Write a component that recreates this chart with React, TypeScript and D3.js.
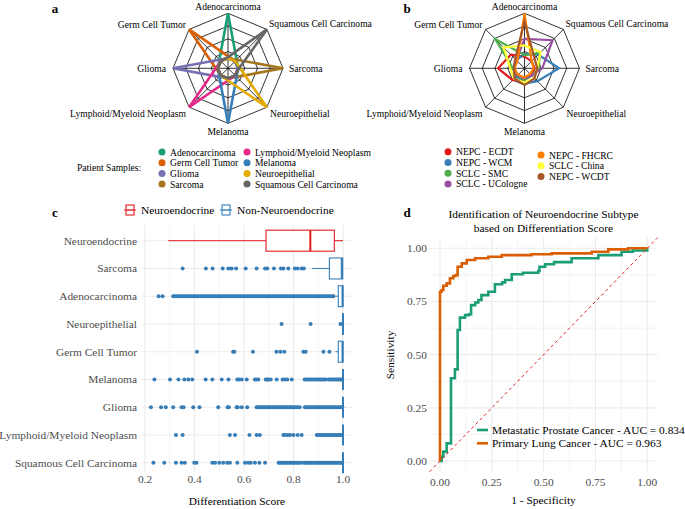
import React from "react";
import * as d3 from "d3";

const W = 685;
const H = 509;
const serif = '"Liberation Serif", "Times New Roman", Times, serif';
const tickGray = "#4D4D4D";
const gridGray = "#EBEBEB";

// ---- panels a / b : radar charts ----
const radarAxes = [
  "Adenocarcinoma",
  "Squamous Cell Carcinoma",
  "Sarcoma",
  "Neuroepithelial",
  "Melanoma",
  "Lymphoid/Myeloid Neoplasm",
  "Glioma",
  "Germ Cell Tumor",
];

const sampleNames = [
  "Adenocarcinoma",
  "Germ Cell Tumor",
  "Glioma",
  "Sarcoma",
  "Lymphoid/Myeloid Neoplasm",
  "Melanoma",
  "Neuroepithelial",
  "Squamous Cell Carcinoma",
];
const sampleColors = ["#1B9E77", "#D95F02", "#7570B3", "#A6761D", "#E7298A", "#377EB8", "#E6AB02", "#666666"];
// values follow radarAxes order
const sampleValues = [
  [1.0, 0.16, 0.12, 0.12, 0.12, 0.12, 0.12, 0.16],
  [0.16, 0.12, 0.12, 0.12, 0.12, 0.12, 0.16, 1.0],
  [0.12, 0.12, 0.12, 0.12, 0.12, 0.16, 1.0, 0.16],
  [0.12, 0.16, 1.0, 0.16, 0.12, 0.12, 0.12, 0.12],
  [0.12, 0.12, 0.12, 0.12, 0.16, 1.0, 0.16, 0.12],
  [0.12, 0.12, 0.12, 0.16, 1.0, 0.16, 0.12, 0.12],
  [0.12, 0.12, 0.16, 1.0, 0.16, 0.12, 0.12, 0.12],
  [0.14, 1.0, 0.14, 0.12, 0.12, 0.12, 0.12, 0.12],
];

const cohortNames = [
  "NEPC - ECDT",
  "NEPC - WCM",
  "SCLC - SMC",
  "SCLC - UCologne",
  "NEPC - FHCRC",
  "SCLC - China",
  "NEPC - WCDT",
];
const cohortColors = ["#E41A1C", "#377EB8", "#4DAF4A", "#984EA3", "#FF7F00", "#FFFF33", "#A65628"];
const cohortValues = [
  [0.15, 0.12, 0.12, 0.12, 0.15, 0.25, 0.44, 0.3],
  [0.2, 0.3, 0.6, 0.28, 0.22, 0.15, 0.15, 0.15],
  [0.18, 0.35, 0.2, 0.12, 0.15, 0.12, 0.15, 0.73],
  [0.5, 0.7, 0.27, 0.12, 0.12, 0.12, 0.12, 0.15],
  [1.0, 0.12, 0.1, 0.08, 0.1, 0.1, 0.12, 0.12],
  [0.37, 0.37, 0.17, 0.2, 0.2, 0.21, 0.2, 0.5],
  [0.84, 0.2, 0.17, 0.2, 0.25, 0.2, 0.13, 0.18],
];

// ---- panel c : differentiation score boxplots ----
const boxCategories = [
  "Neuroendocrine",
  "Sarcoma",
  "Adenocarcinoma",
  "Neuroepithelial",
  "Germ Cell Tumor",
  "Melanoma",
  "Glioma",
  "Lymphoid/Myeloid Neoplasm",
  "Squamous Cell Carcinoma",
];
const boxGroup = ["Neuroendocrine", "Non-Neuroendocrine", "Non-Neuroendocrine", "Non-Neuroendocrine", "Non-Neuroendocrine", "Non-Neuroendocrine", "Non-Neuroendocrine", "Non-Neuroendocrine", "Non-Neuroendocrine"];
// [lower whisker, q1, median, q3, upper whisker]
const boxStats = [
  [0.294, 0.689, 0.868, 0.965, 1.0],
  [0.874, 0.945, 0.995, 0.999, 1.0],
  [0.962, 0.981, 0.998, 1.0, 1.0],
  [0.996, 0.998, 1.0, 1.0, 1.0],
  [0.97, 0.981, 0.998, 1.0, 1.0],
  [1.0, 1.0, 1.0, 1.0, 1.0],
  [1.0, 1.0, 1.0, 1.0, 1.0],
  [1.0, 1.0, 1.0, 1.0, 1.0],
  [1.0, 1.0, 1.0, 1.0, 1.0],
];
const outliers = [
  [],
  [0.352, 0.446, 0.473, 0.514, 0.537, 0.55, 0.568, 0.607, 0.651, 0.685, 0.694, 0.721, 0.749, 0.759, 0.779, 0.806, 0.817, 0.833, 0.842],
  [0.255, 0.271, 0.314, 0.32, 0.327, 0.334, 0.341, 0.348, 0.355, 0.362, 0.369, 0.376, 0.383, 0.39, 0.397, 0.404, 0.411, 0.418, 0.425, 0.432, 0.439, 0.446, 0.453, 0.46, 0.467, 0.474, 0.481, 0.488, 0.495, 0.502, 0.509, 0.516, 0.523, 0.53, 0.537, 0.544, 0.551, 0.558, 0.565, 0.572, 0.579, 0.586, 0.593, 0.6, 0.607, 0.614, 0.621, 0.628, 0.635, 0.642, 0.649, 0.656, 0.663, 0.67, 0.677, 0.684, 0.691, 0.698, 0.705, 0.712, 0.719, 0.726, 0.733, 0.74, 0.747, 0.754, 0.761, 0.768, 0.775, 0.782, 0.789, 0.796, 0.803, 0.81, 0.817, 0.824, 0.831, 0.838, 0.845, 0.852, 0.859, 0.866, 0.873, 0.88, 0.887, 0.894, 0.901, 0.908, 0.915, 0.922, 0.929, 0.936, 0.943, 0.95, 0.957, 0.961],
  [0.752, 0.869, 0.99],
  [0.41, 0.556, 0.561, 0.636, 0.731, 0.747, 0.763, 0.84, 0.849, 0.921, 0.945],
  [0.238, 0.301, 0.335, 0.359, 0.375, 0.391, 0.445, 0.472, 0.51, 0.537, 0.573, 0.58, 0.591, 0.611, 0.644, 0.65, 0.658, 0.688, 0.694, 0.698, 0.708, 0.732, 0.756, 0.765, 0.775, 0.793, 0.845, 0.852, 0.858, 0.865, 0.871, 0.878, 0.884, 0.891, 0.897, 0.904, 0.91, 0.917, 0.923, 0.93, 0.942, 0.948, 0.955, 0.961, 0.967, 0.973, 0.979, 0.985, 0.99, 0.995],
  [0.224, 0.265, 0.284, 0.314, 0.348, 0.356, 0.395, 0.42, 0.496, 0.534, 0.539, 0.57, 0.575, 0.591, 0.613, 0.651, 0.657, 0.664, 0.67, 0.676, 0.683, 0.689, 0.696, 0.702, 0.708, 0.715, 0.721, 0.728, 0.734, 0.741, 0.747, 0.754, 0.76, 0.767, 0.773, 0.779, 0.786, 0.792, 0.799, 0.805, 0.812, 0.818, 0.825, 0.846, 0.852, 0.859, 0.865, 0.871, 0.878, 0.884, 0.891, 0.897, 0.904, 0.91, 0.917, 0.923, 0.929, 0.936, 0.942, 0.948, 0.955, 0.961, 0.967, 0.974, 0.98, 0.986, 0.992, 0.997],
  [0.325, 0.352, 0.543, 0.564, 0.622, 0.651, 0.664, 0.759, 0.766, 0.776, 0.786, 0.8, 0.817, 0.833, 0.894, 0.9, 0.906, 0.913, 0.919, 0.925, 0.932, 0.938, 0.944, 0.951, 0.957, 0.963, 0.97, 0.976, 0.982, 0.988, 0.994],
  [0.234, 0.278, 0.325, 0.348, 0.361, 0.399, 0.408, 0.472, 0.483, 0.5, 0.516, 0.532, 0.543, 0.573, 0.604, 0.617, 0.627, 0.644, 0.662, 0.685, 0.74, 0.746, 0.752, 0.759, 0.765, 0.771, 0.778, 0.784, 0.79, 0.797, 0.803, 0.81, 0.816, 0.822, 0.829, 0.841, 0.847, 0.853, 0.86, 0.866, 0.872, 0.879, 0.885, 0.891, 0.898, 0.904, 0.91, 0.917, 0.923, 0.929, 0.936, 0.942, 0.948, 0.955, 0.961, 0.967, 0.974, 0.98, 0.986, 0.992, 0.997],
];
const groupColors: Record<string, string> = { Neuroendocrine: "#E41A1C", "Non-Neuroendocrine": "#377EB8" };
const scoreTicks = [0.2, 0.4, 0.6, 0.8, 1.0];
const scoreMinor = [0.3, 0.5, 0.7, 0.9];

// ---- panel d : ROC curves ----
const rocNames = ["Metastatic Prostate Cancer - AUC = 0.834", "Primary Lung Cancer - AUC = 0.963"];
const rocColors = ["#1B9E77", "#D95F02"];
const rocProstate: [number, number][] = [
  [0, 0], [0.008, 0.02], [0.016, 0.044], [0.032, 0.044], [0.032, 0.083], [0.053, 0.083], [0.053, 0.389],
  [0.072, 0.389], [0.072, 0.431], [0.085, 0.431], [0.085, 0.616], [0.096, 0.616], [0.096, 0.674],
  [0.121, 0.686], [0.14, 0.69], [0.15, 0.733], [0.17, 0.745], [0.185, 0.757], [0.2, 0.78], [0.233, 0.796],
  [0.265, 0.796], [0.265, 0.831], [0.3, 0.84], [0.314, 0.851], [0.346, 0.878], [0.4, 0.885], [0.474, 0.893],
  [0.48, 0.913], [0.507, 0.925], [0.55, 0.935], [0.635, 0.953], [0.764, 0.968], [0.876, 0.984], [0.93, 0.99], [1, 1],
];
const rocLung: [number, number][] = [
  [0, 0], [0, 0.796], [0.008, 0.804], [0.016, 0.824], [0.032, 0.835], [0.048, 0.859], [0.064, 0.87],
  [0.075, 0.874], [0.085, 0.913], [0.105, 0.929], [0.129, 0.945], [0.169, 0.953], [0.233, 0.96],
  [0.298, 0.968], [0.442, 0.972], [0.539, 0.976], [0.732, 0.984], [0.812, 0.995], [0.908, 1], [1, 1],
];
const rocTicks = [0, 0.25, 0.5, 0.75, 1];
const rocMinor = [0.125, 0.375, 0.625, 0.875];

const T = (p: any) => <text fontFamily={serif} style={{ fontFamily: serif }} {...p} />;

const Radar = ({ cx, cy, values, colors, lw }: any) => {
  const r = d3.scaleLinear().domain([0, 1]).range([4, 55]);
  const ang = (i: number) => (i * Math.PI) / 4;
  const ring = (v: number) =>
    d3.lineRadial<string>().angle((_, i) => ang(i)).radius(() => r(v)).curve(d3.curveLinearClosed)(radarAxes);
  const series = d3.lineRadial<number>().angle((_, i) => ang(i)).radius((d) => r(d)).curve(d3.curveLinearClosed);
  // label placement per axis
  const lab = [
    { dx: 0, dy: -62, a: "middle" },
    { dx: 41, dy: -45, a: "start" },
    { dx: 61, dy: 0, a: "start" },
    { dx: 42, dy: 45, a: "start" },
    { dx: 0, dy: 63, a: "middle" },
    { dx: -42, dy: 45, a: "end" },
    { dx: -62, dy: 0, a: "end" },
    { dx: -42, dy: -44, a: "end" },
  ];
  return (
    <g>
      <g transform={`translate(${cx},${cy})`}>
        {[0.25, 0.5, 0.75, 1].map((v) => (
          <path key={v} d={ring(v) || ""} fill="none" stroke="#000" strokeWidth={0.8} />
        ))}
        {radarAxes.map((_, i) => (
          <line key={i} x1={0} y1={0} x2={r(1) * Math.sin(ang(i))} y2={-r(1) * Math.cos(ang(i))} stroke="#000" strokeWidth={0.8} />
        ))}
        {values.map((vals: number[], k: number) => (
          <path key={k} d={series(vals) || ""} fill="none" stroke={colors[k]} strokeWidth={lw} strokeLinejoin="miter" />
        ))}
      </g>
      {radarAxes.map((name, i) => (
        <T key={name} x={cx + lab[i].dx} y={cy + lab[i].dy} textAnchor={lab[i].a} dominantBaseline="central" fontSize={9.6} fill="#000">
          {name}
        </T>
      ))}
    </g>
  );
};

const DotLegend = ({ x, y, names, colors, step }: any) => (
  <g>
    {names.map((n: string, i: number) => (
      <g key={n}>
        <circle cx={x} cy={y + i * step} r={3.5} fill={colors[i]} />
        <T x={x + 8} y={y + i * step} dominantBaseline="central" fontSize={9.6}>
          {n}
        </T>
      </g>
    ))}
  </g>
);

const BoxPanel = () => {
  const x = d3.scaleLinear().domain([0.2, 1.0]).range([145, 343]);
  const y = d3.scalePoint<string>().domain(boxCategories).range([240.7, 462.7]);
  const left = 142, right = 352, top = 225, bottom = 472;
  const half = 10.5;
  return (
    <g>
      {scoreMinor.map((t) => (
        <line key={t} x1={x(t)} x2={x(t)} y1={top} y2={bottom} stroke={gridGray} strokeWidth={0.6} />
      ))}
      {scoreTicks.map((t) => (
        <line key={t} x1={x(t)} x2={x(t)} y1={top} y2={bottom} stroke={gridGray} strokeWidth={1.1} />
      ))}
      {boxCategories.map((c) => (
        <line key={c} x1={left} x2={right} y1={y(c)} y2={y(c)} stroke={gridGray} strokeWidth={1.1} />
      ))}
      {boxCategories.map((c, i) => {
        const [lo, q1, med, q3, hi] = boxStats[i];
        const col = groupColors[boxGroup[i]];
        const cy = y(c) as number;
        return (
          <g key={c}>
            <line x1={x(lo)} x2={x(q1)} y1={cy} y2={cy} stroke={col} strokeWidth={1} />
            <line x1={x(q3)} x2={x(hi)} y1={cy} y2={cy} stroke={col} strokeWidth={1} />
            <rect x={x(q1)} y={cy - half} width={x(q3) - x(q1)} height={half * 2} fill="#fff" stroke={col} strokeWidth={1.1} />
            <line x1={x(med)} x2={x(med)} y1={cy - half} y2={cy + half} stroke={col} strokeWidth={2} />
            {outliers[i].map((v, j) => (
              <circle key={j} cx={x(v)} cy={cy} r={2} fill={col} />
            ))}
          </g>
        );
      })}
      {boxCategories.map((c) => (
        <T key={c} x={137} y={y(c)} textAnchor="end" dominantBaseline="central" fontSize={11.4} fill={tickGray}>
          {c}
        </T>
      ))}
      {scoreTicks.map((t) => (
        <T key={t} x={x(t)} y={479} textAnchor="middle" dominantBaseline="central" fontSize={11.4} fill={tickGray}>
          {t.toFixed(1)}
        </T>
      ))}
      <T x={237} y={501} textAnchor="middle" dominantBaseline="central" fontSize={11.4}>
        Differentiation Score
      </T>
      {/* legend */}
      {["Neuroendocrine", "Non-Neuroendocrine"].map((g, i) => {
        const lx = i === 0 ? 124 : 220;
        return (
          <g key={g}>
            <line x1={lx} x2={lx + 12} y1={210} y2={210} stroke={groupColors[g]} strokeWidth={1} />
            <rect x={lx + 2} y={205} width={8} height={10} fill="#fff" stroke={groupColors[g]} strokeWidth={1.1} />
            <line x1={lx + 2} x2={lx + 10} y1={210} y2={210} stroke={groupColors[g]} strokeWidth={1.4} />
            <T x={lx + 17} y={210} dominantBaseline="central" fontSize={11.4}>
              {g}
            </T>
          </g>
        );
      })}
    </g>
  );
};

const RocPanel = () => {
  const x = d3.scaleLinear().domain([0, 1]).range([440, 647.3]);
  const y = d3.scaleLinear().domain([0, 1]).range([461, 248.3]);
  const x0 = x(-0.05), x1 = x(1.05), y0 = y(-0.05), y1 = y(1.05);
  const line = d3.line<[number, number]>().x((d) => x(d[0])).y((d) => y(d[1])).curve(d3.curveStepAfter);
  return (
    <g>
      {rocMinor.map((t) => (
        <g key={t}>
          <line x1={x(t)} x2={x(t)} y1={y1} y2={y0} stroke={gridGray} strokeWidth={0.6} />
          <line x1={x0} x2={x1} y1={y(t)} y2={y(t)} stroke={gridGray} strokeWidth={0.6} />
        </g>
      ))}
      {rocTicks.map((t) => (
        <g key={t}>
          <line x1={x(t)} x2={x(t)} y1={y1} y2={y0} stroke={gridGray} strokeWidth={1.1} />
          <line x1={x0} x2={x1} y1={y(t)} y2={y(t)} stroke={gridGray} strokeWidth={1.1} />
          <T x={x(t)} y={482} textAnchor="middle" dominantBaseline="central" fontSize={11.4} fill={tickGray}>
            {t.toFixed(2)}
          </T>
          <T x={427} y={y(t)} textAnchor="end" dominantBaseline="central" fontSize={11.4} fill={tickGray}>
            {t.toFixed(2)}
          </T>
        </g>
      ))}
      <path d={line(rocProstate) || ""} fill="none" stroke={rocColors[0]} strokeWidth={2.6} />
      <path d={line(rocLung) || ""} fill="none" stroke={rocColors[1]} strokeWidth={2.6} />
      <line x1={x0} y1={y0} x2={x1} y2={y1} stroke="#E41A1C" strokeWidth={1} strokeDasharray="3,3" />
      {rocNames.map((n, i) => (
        <g key={n}>
          <line x1={477} x2={488} y1={430 + i * 13.3} y2={430 + i * 13.3} stroke={rocColors[i]} strokeWidth={2.6} />
          <T x={492} y={430 + i * 13.3} dominantBaseline="central" fontSize={11.4}>
            {n}
          </T>
        </g>
      ))}
      <T x={543.5} y={213.5} textAnchor="middle" dominantBaseline="central" fontSize={11.4}>
        Identification of Neuroendocrine Subtype
      </T>
      <T x={543.5} y={227.5} textAnchor="middle" dominantBaseline="central" fontSize={11.4}>
        based on Differentiation Score
      </T>
      <T x={543.5} y={500} textAnchor="middle" dominantBaseline="central" fontSize={11.4}>
        1 - Specificity
      </T>
      <T transform={`translate(390,355) rotate(-90)`} textAnchor="middle" dominantBaseline="central" fontSize={11.4}>
        Sensitivity
      </T>
    </g>
  );
};

export default function App() {
  return (
    <svg width={W} height={H} style={{ position: "absolute", left: 0, top: 0, background: "#fff", fontFamily: serif }}>
      <rect width={W} height={H} fill="#fff" />
      <Radar cx={228} cy={68.3} values={sampleValues} colors={sampleColors} lw={2.6} />
      <Radar cx={524.5} cy={68.3} values={cohortValues} colors={cohortColors} lw={2.2} />
      <T x={77} y={167} dominantBaseline="central" fontSize={9.6}>Patient Samples:</T>
      <DotLegend x={162} y={152} names={sampleNames.slice(0, 4)} colors={sampleColors.slice(0, 4)} step={10.7} />
      <DotLegend x={247} y={152} names={sampleNames.slice(4)} colors={sampleColors.slice(4)} step={10.7} />
      <DotLegend x={448} y={151.8} names={cohortNames.slice(0, 4)} colors={cohortColors.slice(0, 4)} step={10.7} />
      <DotLegend x={541} y={155} names={cohortNames.slice(4)} colors={cohortColors.slice(4)} step={10.8} />
      <BoxPanel />
      <RocPanel />
      {[["a", 55, 8], ["b", 407, 8], ["c", 55, 212], ["d", 407, 212]].map(([t, px, py]) => (
        <T key={t as string} x={px as number} y={py as number} textAnchor="middle" dominantBaseline="central" fontSize={13} fontWeight="bold">
          {t}
        </T>
      ))}
    </svg>
  );
}
